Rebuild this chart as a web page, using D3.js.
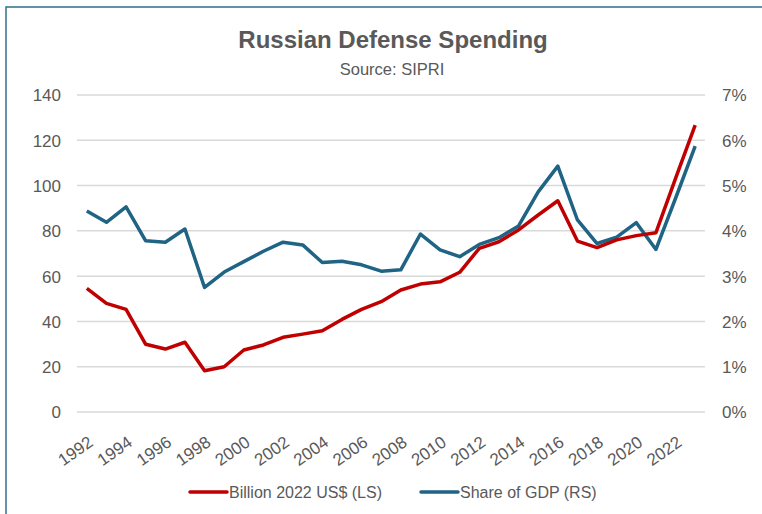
<!DOCTYPE html>
<html>
<head>
<meta charset="utf-8">
<script src="https://cdn.jsdelivr.net/npm/d3@7"></script>
<style>
  body { margin: 0; background: #fff; }
  text { font-family: "Liberation Sans", Arial, sans-serif; fill: #595959; }
</style>
</head>
<body>
<svg id="chart" width="762" height="514"></svg>
<script>
// chart data
var years = d3.range(1992, 2024);
var spending = [54.6, 48.0, 45.3, 29.9, 27.8, 30.8, 18.2, 20.0, 27.4, 29.6,
  33.0, 34.4, 35.9, 40.9, 45.3, 48.7, 53.9, 56.5, 57.5, 61.7,
  72.3, 75.2, 80.4, 87.0, 93.3, 75.5, 72.6, 76.0, 77.9, 79.2,
  103.2, 126.7];
var gdpShare = [4.44, 4.19, 4.53, 3.78, 3.75, 4.04, 2.75, 3.09, 3.32, 3.55,
  3.75, 3.69, 3.30, 3.33, 3.25, 3.11, 3.14, 3.93, 3.58, 3.43,
  3.70, 3.85, 4.11, 4.86, 5.43, 4.24, 3.72, 3.86, 4.18, 3.59,
  4.72, 5.87];
var leftTicks = [0, 20, 40, 60, 80, 100, 120, 140];
var rightTicks = [0, 1, 2, 3, 4, 5, 6, 7];

var svg = d3.select('#chart');

// frame round the chart
svg.append('rect')
  .attr('x', 6).attr('y', 7)
  .attr('width', 800).attr('height', 600)
  .attr('fill', 'none')
  .attr('stroke', '#2f6f8f')
  .attr('stroke-width', 1.5);

var plotLeft = 77, plotRight = 705, plotTop = 95, plotBottom = 412;

var x = d3.scaleBand().domain(years).range([plotLeft, plotRight]);
var yL = d3.scaleLinear().domain([0, 140]).range([plotBottom, plotTop]);
var yR = d3.scaleLinear().domain([0, 7]).range([plotBottom, plotTop]);

// titles
svg.append('text')
  .attr('x', 393).attr('y', 48)
  .attr('text-anchor', 'middle')
  .style('font-weight', 'bold')
  .style('font-size', '24px')
  .text('Russian Defense Spending');
svg.append('text')
  .attr('x', 392).attr('y', 75)
  .attr('text-anchor', 'middle')
  .style('font-size', '16.5px')
  .text('Source: SIPRI');

// gridlines
svg.append('g').selectAll('line')
  .data(leftTicks).enter()
  .append('line')
  .attr('x1', plotLeft).attr('x2', plotRight)
  .attr('y1', function(d) { return yL(d); })
  .attr('y2', function(d) { return yL(d); })
  .attr('stroke', '#d9d9d9')
  .attr('stroke-width', 1.5);

// left axis
var axL = svg.append('g')
  .attr('transform', 'translate(' + plotLeft + ',0)')
  .call(d3.axisLeft(yL).tickValues(leftTicks).tickSize(0).tickPadding(16));
axL.select('.domain').remove();
axL.selectAll('text').style('font-size', '17px').attr('dy', '0.35em');

// right axis
var axR = svg.append('g')
  .attr('transform', 'translate(' + plotRight + ',0)')
  .call(d3.axisRight(yR).tickValues(rightTicks).tickSize(0).tickPadding(17)
    .tickFormat(function(d) { return d + '%'; }));
axR.select('.domain').remove();
axR.selectAll('text').style('font-size', '17px').attr('dy', '0.35em');

// x axis, every other year, rotated
var axX = svg.append('g')
  .attr('transform', 'translate(0,' + plotBottom + ')')
  .call(d3.axisBottom(x)
    .tickValues(years.filter(function(d) { return (d - 1992) % 2 === 0; }))
    .tickSize(0));
axX.select('.domain').remove();
axX.selectAll('text')
  .style('font-size', '17px')
  .attr('text-anchor', 'end')
  .attr('transform', 'translate(4,28) rotate(-35)')
  .attr('x', 0).attr('y', 0).attr('dy', '0.35em');

// lines
var lineL = d3.line()
  .x(function(d, i) { return x(years[i]) + x.bandwidth() / 2; })
  .y(function(d) { return yL(d); });
var lineR = d3.line()
  .x(function(d, i) { return x(years[i]) + x.bandwidth() / 2; })
  .y(function(d) { return yR(d); });

svg.append('path')
  .datum(gdpShare)
  .attr('d', lineR)
  .attr('fill', 'none')
  .attr('stroke', '#1f6385')
  .attr('stroke-width', 3.5)
  .attr('stroke-linejoin', 'round');

svg.append('path')
  .datum(spending)
  .attr('d', lineL)
  .attr('fill', 'none')
  .attr('stroke', '#c00000')
  .attr('stroke-width', 3.5)
  .attr('stroke-linejoin', 'round');

// legend
var legend = [
  { label: 'Billion 2022 US$ (LS)', color: '#c00000', x: 190 },
  { label: 'Share of GDP (RS)', color: '#1f6385', x: 421 }
];
var lg = svg.append('g').selectAll('g')
  .data(legend).enter()
  .append('g')
  .attr('transform', function(d) { return 'translate(' + d.x + ',492)'; });
lg.append('line')
  .attr('x1', 0).attr('x2', 37)
  .attr('stroke', function(d) { return d.color; })
  .attr('stroke-width', 3.5)
  .attr('stroke-linecap', 'round');
lg.append('text')
  .attr('x', 39).attr('dy', '0.35em')
  .style('font-size', '16px')
  .text(function(d) { return d.label; });
</script>
</body>
</html>
